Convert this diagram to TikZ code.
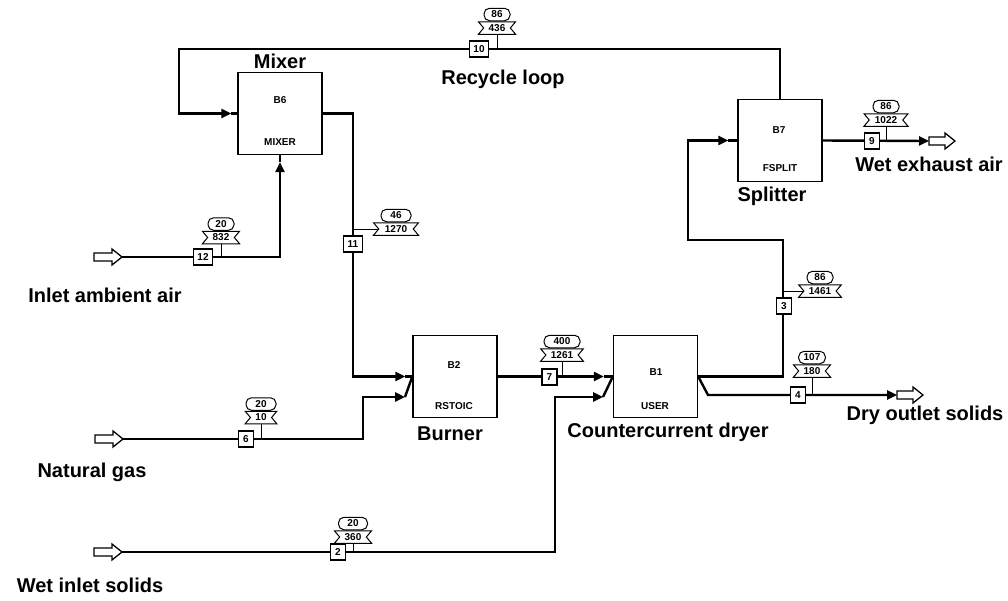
\documentclass[tikz,border=0pt]{standalone}
\usepackage{fontspec}
\setmainfont{Liberation Sans}
\usetikzlibrary{arrows.meta,shapes.symbols,calc}
\begin{document}
\begin{tikzpicture}[x=1pt,y=-1pt,
  blk/.style={draw,line width=1.4pt,minimum width=84pt,minimum height=82pt,inner sep=0pt},
  bid/.style={font=\bfseries\fontsize{10}{11}\selectfont,inner sep=0pt},
  lab/.style={font=\bfseries\fontsize{20}{23}\selectfont,inner sep=0pt},
  sbox/.style={draw,fill=white,line width=1.2pt,minimum width=15pt,minimum height=16pt,inner xsep=4pt,inner ysep=1pt,font=\bfseries\fontsize{10}{11}\selectfont},
  oval/.style={draw,fill=white,line width=1pt,rounded corners=5.5pt,minimum height=12.5pt,minimum width=26pt,inner xsep=5pt,inner ysep=0pt,font=\bfseries\fontsize{10}{11}\selectfont},
  ribbon/.style={signal,signal from=west and east,signal to=nowhere,signal pointer angle=100,draw,fill=white,line width=1pt,minimum height=12.5pt,minimum width=35pt,inner xsep=5pt,inner ysep=0pt,font=\bfseries\fontsize{10}{11}\selectfont},
  str/.style={line width=2.4pt},
  strA/.style={line width=2.4pt,-{Triangle[length=10pt,width=9pt]}},
  lead/.style={line width=1pt},
  feed/.style={draw,line width=1.3pt,fill=white,line join=miter}
]
\useasboundingbox[fill=white] (0,0) rectangle (1008,600);

% ---------- blocks ----------
\node[blk] (B6) at (280,113.5) {};
\node[bid] (B6a) at (280,100) {B6};
\node[bid] (B6b) at (280,142) {MIXER};
\node[blk] (B7) at (780,140.5) {};
\node[bid] (B7a) at (779,130) {B7};
\node[bid] (B7b) at (780,168) {FSPLIT};
\node[blk] (B2) at (455,376.5) {};
\node[bid] (B2a) at (454,365) {B2};
\node[bid] (B2b) at (454,406) {RSTOIC};
\node[blk] (B1) at (655.5,376.5) {};
\node[bid] (B1a) at (656,372) {B1};
\node[bid] (B1b) at (655,406) {USER};

% ---------- coordinates ----------
\coordinate (r1) at (179,49);
\coordinate (m6in) at ([xshift=-6pt]B6.west);
\coordinate (m6lo) at ([yshift=-7pt]B6.south);
\coordinate (b2up) at ([xshift=-7pt]B2.west);
\coordinate (b2lo) at (405,397);
\coordinate (k6) at (363,397);
\coordinate (b1up) at ([xshift=-9pt]B1.west);
\coordinate (b1lo) at (603,397);
\coordinate (k2) at (555,397);
\coordinate (k3a) at (783,240);
\coordinate (k3b) at (688,240);
\coordinate (b7in) at ([xshift=-9pt]B7.west);
\coordinate (k4) at (708,395);
\coordinate (p4) at (897,395);
\coordinate (p9) at (929,141);
\coordinate (f12) at (122,257);
\coordinate (f6) at (123,439);
\coordinate (f2) at (122,552);
\coordinate (k11) at (353,244);

% ---------- streams ----------
% 10 recycle
\draw[strA] (B7.north) |- (r1) |- (m6in);
\draw[str] (m6in) -- (B6.west);
% 11
\draw[strA] (B6.east) -| (k11) |- (b2up);
\draw[str] (b2up) -- (B2.west);
% 6
\draw[strA] (f6) -| (k6) -- (b2lo);
\draw[str] (b2lo) -- (B2.west);
% 7
\draw[strA] (B2.east) -- (b1up);
\draw[str] (b1up) -- (B1.west);
% 2
\draw[strA] (f2) -| (k2) -- (b1lo);
\draw[str] (b1lo) -- (B1.west);
% 3
\draw[strA] (B1.east) -| (k3a) -- (k3b) |- (b7in);
\draw[str] (b7in) -- (B7.west);
% 4
\draw[strA] (B1.east) -- (k4) -- (p4);
% 9
\draw[strA] (B7.east) -- (p9);
% 12
\draw[strA] (f12) -| (m6lo);
\draw[str] (m6lo) -- (B6.south);

% ---------- feed / product arrows ----------
\draw[feed] (f12) -- ++(-10,-8) -- ++(0,4) -- ++(-18,0) -- ++(0,8) -- ++(18,0) -- ++(0,4) -- cycle;
\draw[feed] (f6) -- ++(-10,-8) -- ++(0,4) -- ++(-18,0) -- ++(0,8) -- ++(18,0) -- ++(0,4) -- cycle;
\draw[feed] (f2) -- ++(-10,-8) -- ++(0,4) -- ++(-18,0) -- ++(0,8) -- ++(18,0) -- ++(0,4) -- cycle;
\draw[feed] ($(p9)+(0,-4)$) -- ++(16,0) -- ++(0,-4) -- ++(10,8) -- ++(-10,8) -- ++(0,-4) -- ++(-16,0) -- cycle;
\draw[feed] ($(p4)+(0,-4)$) -- ++(16,0) -- ++(0,-4) -- ++(10,8) -- ++(-10,8) -- ++(0,-4) -- ++(-16,0) -- cycle;

% ---------- stream number boxes ----------
\node[sbox] (s10) at (479,49) {10};
\node[sbox] (s12) at (203,257) {12};
\node[sbox] (s11) at (k11) {11};
\node[sbox] (s6) at (246,439) {6};
\node[sbox] (s7) at (549.5,377) {7};
\node[sbox] (s2) at (338,552) {2};
\node[sbox] (s3) at (784,306) {3};
\node[sbox] (s4) at (798,395) {4};
\node[sbox] (s9) at (872,141) {9};

% ---------- stream tags ----------
\node[ribbon] (t10b) at (497,28) {436};
\node[oval,anchor=south] (t10a) at (t10b.north) {86};
\draw[lead] (t10b.south) -- (t10b.south |- s10.center);

\node[ribbon] (t12b) at (221,237.5) {832};
\node[oval,anchor=south] (t12a) at (t12b.north) {20};
\draw[lead] (t12b.south) -- (t12b.south |- s12.center);

\node[ribbon,minimum width=45pt] (t11b) at (396,229) {1270};
\node[oval,anchor=south,minimum width=30pt] (t11a) at (t11b.north) {46};
\draw[lead] (t11b.west) -- (t11b.west -| s11.center);

\node[ribbon,minimum width=29pt] (t6b) at (261,417.5) {10};
\node[oval,anchor=south,minimum width=30pt] (t6a) at (t6b.north) {20};
\draw[lead] (t6b.south) -- (t6b.south |- s6.center);

\node[ribbon,minimum width=38pt] (t7b) at (562,355) {1261};
\node[oval,anchor=south,minimum width=36pt] (t7a) at (t7b.north) {400};
\draw[lead] (t7b.south) -- (t7b.south |- s7.center);

\node[ribbon,minimum width=36pt] (t2b) at (353,537) {360};
\node[oval,anchor=south,minimum width=29pt] (t2a) at (t2b.north) {20};
\draw[lead] (t2b.south) -- (t2b.south |- s2.center);

\node[ribbon,minimum width=40pt] (t3b) at (820,291) {1461};
\node[oval,anchor=south] (t3a) at (t3b.north) {86};
\draw[lead] (t3b.west) -- (t3b.west -| s3.center);

\node[ribbon] (t4b) at (812,371) {180};
\node[oval,anchor=south] (t4a) at (t4b.north) {107};
\draw[lead] (t4b.south) -- (t4b.south |- s4.center);

\node[ribbon,minimum width=44pt] (t9b) at (886,120) {1022};
\node[oval,anchor=south] (t9a) at (t9b.north) {86};
\draw[lead] (t9b.south) -- (t9b.south |- s9.center);

% ---------- labels ----------
\node[lab] (Lmix) at (280,61) {Mixer};
\node[lab] (Lrec) at (503,79) {Recycle loop};
\node[lab] (Lspl) at (772,196) {Splitter};
\node[lab] (Lwex) at (929,164) {Wet exhaust air};
\node[lab] (Liaa) at (105,295) {Inlet ambient air};
\node[lab] (Lbur) at (450,434) {Burner};
\node[lab] (Lccd) at (668,432) {Countercurrent dryer};
\node[lab] (Ldos) at (925,415) {Dry outlet solids};
\node[lab] (Lng) at (92,472) {Natural gas};
\node[lab] (Lwis) at (90,585) {Wet inlet solids};
\end{tikzpicture}
\end{document}
